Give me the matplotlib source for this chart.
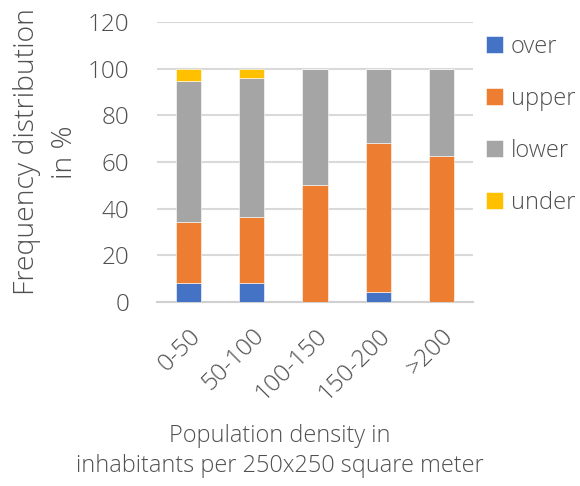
import matplotlib.pyplot as plt
import numpy as np

plt.rcParams['font.family'] = ['Open Sans', 'DejaVu Sans']
plt.rcParams['font.weight'] = 'light'

categories = ['0-50', '50-100', '100-150', '150-200', '>200']
over = [8.0, 8.0, 0.0, 4.3, 0.0]
upper = [26.1, 28.5, 50.0, 63.8, 62.5]
lower = [60.6, 59.3, 50.0, 31.9, 37.5]
under = [5.3, 4.2, 0.0, 0.0, 0.0]

series = [('over', over, '#4472C4'),
          ('upper', upper, '#ED7D31'),
          ('lower', lower, '#A5A5A5'),
          ('under', under, '#FFC000')]

txt = '#505050'

fig = plt.figure(figsize=(5.8, 4.86), dpi=100)
ax = fig.add_axes([157/580, 1 - 302/486, 316/580, 280/486])

x = np.arange(len(categories))
bottom = np.zeros(len(categories))
for name, vals, col in series:
    vals = np.array(vals)
    ax.bar(x, vals, width=0.4, bottom=bottom, color=col, label=name,
           edgecolor='white', linewidth=0.4, zorder=3)
    bottom += vals

ax.set_xlim(-0.5, 4.5)
ax.set_ylim(0, 120)
ax.set_yticks(range(0, 121, 20))
ax.yaxis.grid(True, color='#d9d9d9', linewidth=1.5, zorder=0)
for s in ['top', 'right', 'left']:
    ax.spines[s].set_visible(False)
ax.spines['bottom'].set_color('#d0d0d0')
ax.spines['bottom'].set_linewidth(1.5)
ax.tick_params(length=0, labelsize=17.5, labelcolor=txt)
ax.tick_params(axis='y', pad=20)
ax.set_xticks(x)
ax.set_xticklabels(categories, rotation=45, ha='right', rotation_mode='anchor')
ax.tick_params(axis='x', pad=16)

# axis titles placed like the reference (not centred on the axes)
fig.text(46/580, 1 - 152/486, 'Frequency distribution\nin %', rotation=90,
         ha='center', va='center', fontsize=20.5, color=txt, linespacing=1.45)
fig.text(280/580, 1 - 451/486, 'Population density in\ninhabitants per 250x250 square meter',
         ha='center', va='center', fontsize=16.9, color=txt, linespacing=1.35)

leg = ax.legend(loc='upper left', bbox_to_anchor=(486/580, 1 - 35/486),
                bbox_transform=fig.transFigure, frameon=False,
                fontsize=17, labelcolor=txt, handlelength=0.7, handleheight=0.7,
                handletextpad=0.35, labelspacing=1.18, borderaxespad=0, borderpad=0)

fig.savefig('out.png', dpi=100)
